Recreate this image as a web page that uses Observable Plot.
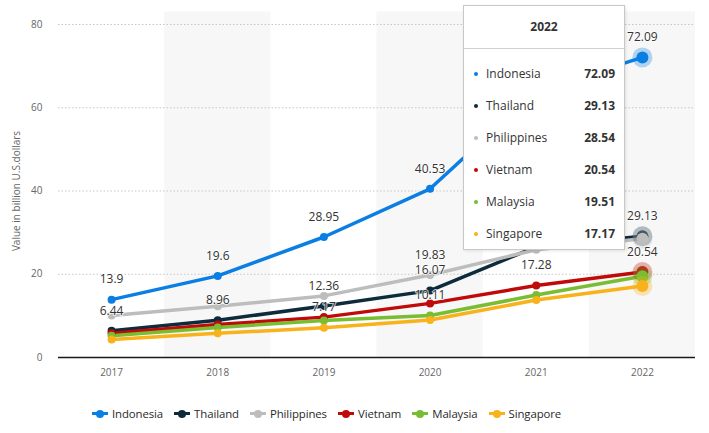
<!DOCTYPE html>
<html><head><meta charset="utf-8">
<script src="https://cdn.jsdelivr.net/npm/d3@7"></script>
<script src="https://cdn.jsdelivr.net/npm/@observablehq/plot@0.6"></script>
<style>
body{margin:0;background:#fff;font-family:"Open Sans",sans-serif;}
#wrap{position:relative;width:709px;height:433px;overflow:hidden;background:#fff;}
#chart{position:absolute;left:0;top:0;}
#tip{position:absolute;left:463px;top:5px;width:162px;height:245px;background:#fff;border:1px solid #c8c8c8;box-sizing:border-box;box-shadow:1px 1px 3px rgba(0,0,0,.10);}
#tip .hd{height:42px;line-height:42px;text-align:center;font-weight:700;font-size:12px;color:#333;border-bottom:1px solid #d0d0d0;}
#tip .row{position:absolute;left:0;width:100%;height:20px;line-height:20px;font-size:12px;color:#333;}
#tip .row .b{position:absolute;left:10px;top:8px;width:4px;height:4px;border-radius:50%;}
#tip .row .n{position:absolute;left:22px;}
#tip .row .v{position:absolute;right:9px;font-weight:700;}
#legend{position:absolute;left:92px;top:404px;height:20px;font-size:11.4px;color:#2a2a2a;white-space:nowrap;letter-spacing:-0.1px;}
#legend .it{display:inline-block;margin-right:11px;vertical-align:middle;}
#legend .sym{display:inline-block;position:relative;width:16px;height:10px;vertical-align:middle;margin-right:4px;}
#legend .sym .l{position:absolute;left:0;top:3.5px;width:16px;height:3px;}
#legend .sym .c{position:absolute;left:4px;top:1px;width:8px;height:8px;border-radius:50%;}
#legend .t{vertical-align:middle;}
</style></head><body><div id="wrap"><div id="chart"></div><div id="tip"></div><div id="legend"></div></div>
<script>
const years = [2017, 2018, 2019, 2020, 2021, 2022];
const series = ["Indonesia", "Thailand", "Philippines", "Vietnam", "Malaysia", "Singapore"];
const colors = ["#0a7ee3", "#0e2b3c", "#bdbdbd", "#c00a0a", "#78bd32", "#f8b21c"];
const indonesia   = [13.9, 19.6, 28.95, 40.53, 64.0, 72.09];
const thailand    = [6.44, 8.96, 12.36, 16.07, 26.6, 29.13];
const philippines = [10.1, 12.3, 14.8, 19.83, 25.9, 28.54];
const vietnam     = [5.8, 7.9, 9.7, 13.0, 17.28, 20.54];
const malaysia    = [5.2, 7.2, 8.9, 10.11, 15.0, 19.51];
const singapore   = [4.3, 5.8, 7.17, 9.0, 13.8, 17.17];
const yTicks = [0, 20, 40, 60, 80];
const yLabel = "Value in billion U.S.dollars";
// data labels shown in the reference: [series, year]
const labelPairs = [
  ["Indonesia", 2017], ["Indonesia", 2018], ["Indonesia", 2019], ["Indonesia", 2020], ["Indonesia", 2022],
  ["Thailand", 2017], ["Thailand", 2018], ["Thailand", 2019], ["Thailand", 2020], ["Thailand", 2022],
  ["Philippines", 2020], ["Singapore", 2019], ["Malaysia", 2020], ["Vietnam", 2021], ["Vietnam", 2022]
];
const hoverYear = 2022;

const seriesValues = [indonesia, thailand, philippines, vietnam, malaysia, singapore];
const data = [];
series.forEach((s, i) => years.forEach((yr, j) => data.push({series: s, year: yr, value: seriesValues[i][j]})));
const find = (s, yr) => data.find(d => d.series === s && d.year === yr);
const labels = labelPairs.map(([s, yr]) => find(s, yr));
const hover = series.map(s => find(s, hoverYear));
const bandYears = years.filter((y, i) => i % 2 === 1);

const hoverMarks = hover.flatMap(d => [
  Plot.dot([d], {x: "year", y: "value", fill: "series", r: 10, fillOpacity: 0.3}),
  Plot.dot([d], {x: "year", y: "value", fill: "series", r: 6})
]);

const chart = Plot.plot({
  width: 709, height: 390,
  marginLeft: 58, marginRight: 14, marginTop: 24, marginBottom: 33,
  x: {type: "linear", domain: [years[0] - 0.5, years[years.length - 1] + 0.5]},
  y: {domain: [0, 80]},
  color: {domain: series, range: colors},
  style: {fontFamily: "'Open Sans', sans-serif", background: "transparent", overflow: "visible"},
  marks: [
    Plot.rect(bandYears, {x1: d => d - 0.5, x2: d => d + 0.5, y1: () => 0, y2: () => 83, fill: "#f7f7f7"}),
    Plot.ruleY(yTicks.filter(v => v > 0), {stroke: "#c6c6c6", strokeDasharray: "1.5,2"}),
    Plot.ruleY([0], {stroke: "#1a1a1a", strokeWidth: 1.5}),
    Plot.axisY({ticks: yTicks, tickSize: 0, tickPadding: 16, label: null, fontSize: 10, color: "#666"}),
    Plot.axisX({ticks: years, tickFormat: d => String(d), tickSize: 0, tickPadding: 11, label: null, fontSize: 10, color: "#666"}),
    Plot.text([yLabel], {frameAnchor: "left", textAnchor: "middle", rotate: -90, dx: -42, fontSize: 10, fill: "#666"}),
    Plot.line(data, {x: "year", y: "value", z: "series", stroke: "series", strokeWidth: 3.5}),
    Plot.dot(data, {x: "year", y: "value", fill: "series", r: 4}),
    ...hoverMarks,
    Plot.text(labels, {x: "year", y: "value", text: d => String(d.value), dy: -20, fontSize: 12, fill: "#333", stroke: "white", strokeWidth: 2, strokeOpacity: 0.7})
  ]
});
document.getElementById("chart").appendChild(chart);

// tooltip
const tip = document.getElementById("tip");
const hd = document.createElement("div");
hd.className = "hd"; hd.textContent = String(hoverYear);
tip.appendChild(hd);
hover.forEach((d, i) => {
  const row = document.createElement("div");
  row.className = "row";
  row.style.top = (58 + i * 32) + "px";
  row.innerHTML = `<span class="b" style="background:${colors[i]}"></span><span class="n">${d.series}</span><span class="v">${d.value.toFixed(2)}</span>`;
  tip.appendChild(row);
});

// legend
const lg = document.getElementById("legend");
series.forEach((s, i) => {
  const it = document.createElement("span");
  it.className = "it";
  it.innerHTML = `<span class="sym"><span class="l" style="background:${colors[i]}"></span><span class="c" style="background:${colors[i]}"></span></span><span class="t">${s}</span>`;
  lg.appendChild(it);
});
</script>
</body></html>
